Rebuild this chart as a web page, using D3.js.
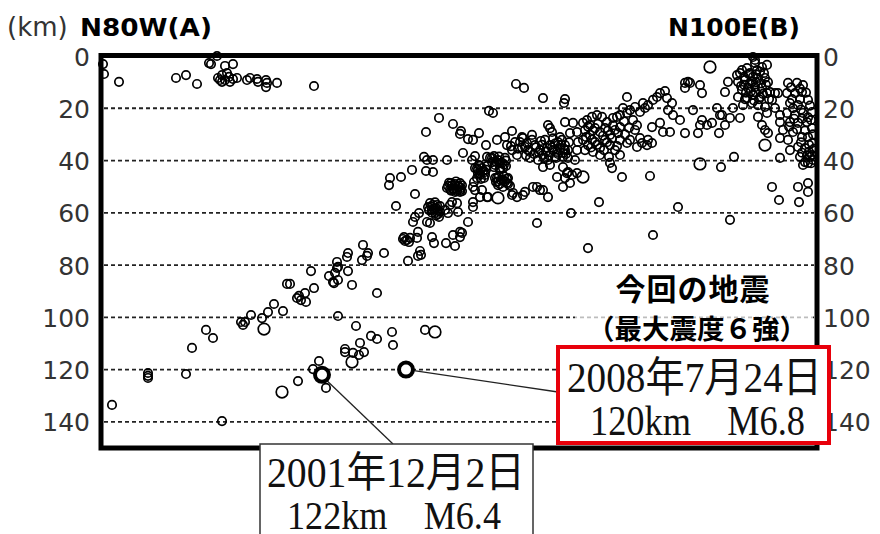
<!DOCTYPE html>
<html><head><meta charset="utf-8">
<script src="https://cdn.jsdelivr.net/npm/d3@7"></script>
<style>body{margin:0;background:#fff}</style>
</head><body><svg id="c" width="880" height="534"></svg>
<script>
// depth ticks (km)
const depthTicks=[0,20,40,60,80,100,120,140];
const gridDepths=[20,40,60,80,100,120,140];
const dirLabels=["N80W(A)","N100E(B)"];
const unitLabel="(km)";
// hypocentres: [distance along profile A->B (km), depth (km)]
const hypocenters=[
[1.5,3.1],[2,6.9],[9.5,9.9],[38,8.4],[43,7.3],[48.5,10.7],[54.5,2.7],[55.5,3.1],[58.5,0],[62.5,3.8],[66.5,3.1],[59,8.4],[61,7.3],[62.5,9.2],[64.5,8.0],[66.5,8.8],[63.5,6.5],[61,9.9],[68.5,8.4],[60,9.2],[65,9.9],[73.5,9.2],[75,8.4],[78.5,8.8],[79,9.9],[83,9.2],[83,11.9],[83.5,10.3],[88.5,10.3],[107,11.5],
[6,133.5],[24,121.3],[24,122.4],[24,123.2],[43,121.7],[46,111.7],[53,104.8],[56.5,107.9],[61,139.7],[70.5,101.8],[72.5,101.8],[71.5,102.9],[75.5,99.1],[81,100.3],[84,98.0],[87,94.9],[91.5,97.6],[93.5,87.2],[95,87.2],[98.5,92.6],[100.5,93.4],[102.5,90.7],[103,94.1],[99.5,91.8],[105.5,82.3],[107,88.8],[99,124.4],[106.5,119.8],[109.5,116.7],[113,127.0],[114.5,84.2],[117,86.9],[118.5,81.1],[118.5,78.8],[119,99.5],[126,87.6],[128,103.3],[130,109.8],[135.5,107.1],[138.5,108.3],[138.5,90.7],[146,105.6],[146.5,110.6],[122.5,113.3],[122.5,112.1],[126.5,113.6],[129.5,114.4],[132,113.3],[162.5,104.8],
[116.5,86.5],[119,85.7],[117.5,83.0],[119,80.7],[124,82.3],[123.5,76.9],[124,75.4],[131.5,72.3],[133.5,76.5],[131,78.1],[134,75.4],[142,75.4],[151.5,70.0],[153.5,70.4],[155,69.6],[152.5,70.8],[152,69.3],[154.5,71.2],[158.5,69.6],[159,67.3],[154,78.4],[159,76.5],[160,74.6],[160.5,76.1],[166,69.3],[167,71.6],[173,71.6],[177.5,72.7],[176.5,68.5],[181,67.7],[180,69.3],
[144.5,49.4],[145,46.7],[150.5,46.3],[156,43.6],[157.5,52.8],[148,57.4],[159.5,60.1],[157.5,61.6],[156.5,63.5],[163.5,63.5],[165,63.9],[169.5,61.6],[180,67.3],[184,63.5],[162,38.6],[163.5,39.8],[166.5,39.8],[173.5,39.8],[163,44.0],[166.5,44.4],[169.5,23.7],[163,29.1],[176.5,26.0],[180.5,28.7],[180,29.8],[184,31.8],[186.5,32.1],[189.5,29.5],[181.5,37.1],[187.5,38.3],
[165,56.3],[166.5,57.0],[168,58.2],[169,59.3],[166,58.9],[167.5,60.1],[170,57.4],[164,57.8],
[165.5,57.5],[167,58.5],[168.5,57],[166,60],[169,60.5],[164.5,59],[167.5,56],[170,59.5],[168,61],
[175,57.0],[178.5,56.3],[179,59.7],[174,60.1],[172.5,58.9],[176,55.9],
[174,49.7],[175.5,48.6],[177.5,49.0],[179,49.7],[180.5,50.5],[176.5,50.9],[178.5,51.7],[175,50.9],[180,48.6],[181,51.7],
[174.5,48.5],[176,49.5],[177,51],[178,48],[179.5,50],[181,49.5],[175.5,51.5],[177.5,52],[173.5,50.5],[180,52],
[187,48.2],[186.5,50.1],[191,51.3],[193.5,54.0],[186.5,55.9],[186.5,57.8],[180,51.3],[187.5,42.9],[190,44.8],[188.5,46.7],[187.5,51.3],[190,54.0],
[189.5,41.7],[191,42.9],[192.5,44.4],[190,45.5],[192,46.7],[193.5,42.1],[189,43.6],[186,39.8],[193.5,38.6],
[190,42],[191.5,44],[189,45],[192.5,45.5],[190.5,47],[188.5,43],[193,43.5],
[195,39.0],[197,38.3],[199,39.8],[201,40.9],[202.5,39.0],[197.5,41.7],[200,42.9],[196,40.6],[203,42.1],
[196,39],[198,40.5],[200,41],[202,41.5],[199.5,38.5],[201.5,43],[197,42.5],[203,40],
[197.5,46.7],[199.5,45.9],[201.5,47.4],[203.5,48.6],[199,49.4],[201.5,50.1],[204,46.7],[198,48.2],[205,49.7],
[198.5,46.5],[200.5,47.5],[202.5,48],[204,49],[200,49],[202,46],[199,48],[203.5,47],
[200,43.6],[194,54.0],[206.5,52.4],[206,53.2],[208.5,54.0],[211.5,53.2],[212.5,52.0],[216.5,50.1],[218.5,50.1],[220,51.3],[221.5,51.3],[224,54.0],[228.5,46.3],[231.5,50.1],[232.5,46.7],[234,44.4],[235,48.6],[235.5,60.1],[218.5,63.9],
[208,10.7],[212,12.2],[221.5,16.1],[232.5,16.5],[232,18.0],[194.5,21.0],[196.5,21.8],[198.5,32.1],[206,28.7],[202.5,31.0],[216,30.2],[211.5,31.4],[224,26.4],[225,27.6],[226,29.1],[232.5,25.3],[235,29.5],[238.5,29.1],[236.5,25.6],[193,34.1],[239,32.9],
[203.5,34.1],[206,36.0],[208.5,37.9],[210,32.9],[212.5,34.8],[215,36.7],[215,39.0],[217.5,34.1],[220,36.0],[221.5,37.9],[222.5,32.1],[225,34.1],[226.5,36.0],[227.5,38.6],[229,32.9],[230,35.2],[231.5,37.1],[232.5,34.1],[234,36.0],[224,39.8],[219,39.8],[211,31.0],[216,32.1],[207.5,32.9],[213.5,33.3],[223.5,35.2],[228.5,36.7],[231,32.1],
[218,35],[219.5,37],[221,34],[223,36.5],[224.5,38],[226,35],[227.5,33.5],[229,37.5],[230.5,34],[232,35.5],[233,37.5],[228,39],[222,39],[217,37.5],[214,36],[211,35],[209,35.5],[205.5,34.5],[213,38],[220.5,32.5],[226.5,31.5],[230,31],[234.5,33],
[231.5,38.6],[221.5,42.5],[225,41.7],[232.5,36.0],[238.5,36.0],[234,39.0],[237.5,39.8],[231.5,42.5],[233.5,44.8],[236,45.5],[238.5,44.8],
[263.5,15.7],
[241.5,25.6],[243.5,24.5],[245,26.4],[246,23.3],[248.5,22.6],[251,23.3],[253.5,25.3],[256.5,23.7],[258.5,23.3],[260,22.6],[261.5,19.9],[263.5,21.8],[265,20.7],[267.5,19.5],[270,21.4],[271.5,18.0],[272.5,19.9],[274,18.8],[276.5,16.8],[278.5,15.7],[280,14.2],[282.5,13.4],
[242.5,28.3],[245,30.2],[247.5,27.6],[250,29.1],[252.5,27.6],[255,30.2],[257.5,28.3],[260,27.2],[241.5,32.1],[244,34.1],[247.5,32.9],[250,35.2],[252.5,32.1],[255,34.1],[257.5,36.0],[260,32.1],[242.5,36.0],[246.5,36.7],[250,37.9],
[244,27],[246.5,28.5],[249,26],[251.5,30.5],[254,28.5],[256.5,26.5],[259,29.5],[243,31],[246,32],[248.5,34],[253.5,33],[256,31.5],[258.5,34.5],[245.5,35],[252,36],[262,25],[264.5,27.5],[266.5,24.5],[268.5,26.5],[262.5,30],
[283.5,16.1],[286,18.0],[284,20.7],[286.5,22.6],[285,29.1],[281.5,29.1],[280,25.6],[276,27.2],[274,32.1],[276,33.3],[273.5,34.1],[271,33.3],[268.5,34.8],[270,31.4],[267.5,28.3],[265,32.1],[263.5,33.3],[260,37.9],[254.5,38.6],[255,40.9],[256,42.9],[261,46.3],[275,45.9],
[249.5,55.9],[289,57.8],[315,62.7],[276.5,68.5],[244,73.5],
[292.5,10.3],[294,9.9],[300,11.1],[301,14.2],[312.5,13.8],[314,9.9],[292.5,12.2],[295,10.3],
[296.5,20.7],[290,24.5],[301,24.5],[300,26.4],[292.5,29.5],[299,29.5],[306,25.6],[309.5,29.5],[311,22.6],[315,23.7],[316.5,19.9],[320,23.7],[303.5,26.4],[308.5,19.9],[310,22.6],[312.5,26.4],
[310.5,42.5],[317,38.6],
[318.5,7.3],[321,5.4],[323.5,4.6],[325,6.5],[327.5,2.7],[328.5,5.4],[331,4.2],[333.5,3.4],[319,9.9],[322.5,9.2],[326,9.9],[329,8.4],[332.5,8.4],[321,13.0],[324,12.2],[327.5,11.9],[331,12.2],[319,15.7],[323.5,16.1],[326.5,14.9],[330,15.7],[333.5,14.2],[335,13.8],[321.5,18.8],[326,18.0],[329,18.8],[332.5,19.5],[337.5,14.2],[336,16.8],[326.5,0.4],[327.5,1.5],
[320,6.5],[322,8],[324.5,7],[326.5,8],[328,7],[330,6],[332,6.5],[334,10],[322,11],[325,10.5],[328,10],[330.5,10.5],[333,11],[320.5,11.5],[323,14],[325.5,13.5],[328,14],[331.5,14.5],[334.5,16.5],[322.5,16.5],[327,17],[329.5,16.5],
[329,23.3],[331,26.4],[332.5,28.3],[334,29.5],
[340,22.6],[340,25.3],[341.5,28.3],[340,31.4],[344,32.1],[345,36.0],[340,39.0],[336,50.1],[339.5,55.1],
[344,10.3],[348.5,10.3],[351.5,11.1],[343.5,14.2],[347.5,14.2],[351,13.8],[354,16.8],[345,18.0],[349,18.8],[343.5,21.8],[347.5,22.6],[351.5,21.8],[356,21.4],[345,25.3],[349,25.6],[353.5,25.3],[356,27.6],[346.5,29.1],[351,31.0],[354,31.0],[356,33.3],[349,34.8],[352.5,35.2],[350,38.6],[352.5,40.6],[355,38.6],[351.5,41.7],[354,40.9],[349,50.1],[354,48.6],[349.5,55.9],[354,52.0],[356,37.9],[356.5,39.8],[354.5,36.7],
[345.5,12],[350,12.5],[353,14],[346,16.5],[350,16.5],[355,19],[346.5,20],[350.5,20.5],[354,23.5],[347,24],[351,24],[355.5,24.5],[344.5,27],[348.5,28],[352.5,28.5],[356.5,30],[350.5,33],[354.5,34],[351,37],[353.5,38],[355.5,41],[357,35.5],
[339,14.2],[337.5,19.9],[333.5,21.8]
];
const largeHypocenters=[[82,104.5],[91,128.6],[126,117.1],[167.5,105.6],[199,54.3],[241.5,46.3],[305,4.2],[300,41.3],[332.5,34.1]];
// main shocks
const mainDist=[111,153];
const mainDepth=[122,120];
const mainDate=["2001年12月2日","2008年7月24日"];
const mainInfo=["122km\u3000M6.4","120km\u3000M6.8"];
const thisQuakeTitle=["今回の地震","（最大震度６強）"];

const svg=d3.select("#c");
const x=d3.scaleLinear().domain([0,359]).range([100,818]);
const y=d3.scaleLinear().domain([0,150]).range([56,448]);
const sans='"DejaVu Sans", sans-serif';
const cjk='"Noto Sans CJK JP", sans-serif';
const serif='"Liberation Serif", "Noto Sans CJK JP", serif';

// grid
svg.append("g").selectAll("line").data(gridDepths).join("line")
 .attr("x1",104).attr("x2",814).attr("y1",d=>y(d)).attr("y2",d=>y(d))
 .attr("stroke","#222").attr("stroke-width",1.8).attr("stroke-dasharray","4,3");

// hypocentres
svg.append("g").selectAll("circle").data(hypocenters).join("circle")
 .attr("cx",d=>x(d[0])).attr("cy",d=>y(d[1])).attr("r",4.2)
 .attr("fill","none").attr("stroke","#000").attr("stroke-width",1.7);
svg.append("g").selectAll("circle").data(largeHypocenters).join("circle")
 .attr("cx",d=>x(d[0])).attr("cy",d=>y(d[1])).attr("r",5.8)
 .attr("fill","none").attr("stroke","#000").attr("stroke-width",1.7);

// white veil behind title text
svg.append("rect").attr("x",575).attr("y",272).attr("width",238).attr("height",74).attr("fill","#fff").attr("opacity",0.7);

// frame
svg.append("rect").attr("x",101).attr("y",55.5).attr("width",716).attr("height",392.5)
 .attr("fill","none").attr("stroke","#000").attr("stroke-width",5);

// axes
const axL=d3.axisLeft(y).tickValues(depthTicks).tickSize(0).tickPadding(11);
const axR=d3.axisRight(y).tickValues(depthTicks).tickSize(0).tickPadding(6);
const gL=svg.append("g").attr("transform","translate(101,1)").call(axL);
const gR=svg.append("g").attr("transform","translate(817,1)").call(axR);
[gL,gR].forEach(g=>{g.select(".domain").remove();g.selectAll("text").attr("font-family",sans).attr("font-size",25).attr("fill","#333");});

// header labels
svg.append("text").attr("x",7).attr("y",36).text(unitLabel).attr("font-family",sans).attr("font-size",26).attr("fill","#333");
svg.append("text").attr("x",80).attr("y",36).text(dirLabels[0]).attr("font-family",sans).attr("font-weight","bold").attr("font-size",25).attr("textLength",132).attr("lengthAdjust","spacingAndGlyphs");
svg.append("text").attr("x",668).attr("y",36).text(dirLabels[1]).attr("font-family",sans).attr("font-weight","bold").attr("font-size",25).attr("textLength",132).attr("lengthAdjust","spacingAndGlyphs");

// leader lines
svg.append("line").attr("x1",x(mainDist[0])+5).attr("y1",y(mainDepth[0])+6).attr("x2",393).attr("y2",444).attr("stroke","#222").attr("stroke-width",1.3);
svg.append("line").attr("x1",x(mainDist[1])+8).attr("y1",y(mainDepth[1])+1).attr("x2",558).attr("y2",392).attr("stroke","#222").attr("stroke-width",1.3);

// main shock circles
svg.append("g").selectAll("circle").data(mainDist).join("circle")
 .attr("cx",d=>x(d)).attr("cy",(d,i)=>y(mainDepth[i])).attr("r",7)
 .attr("fill","#fff").attr("stroke","#000").attr("stroke-width",4);

// title of this quake
svg.append("text").attr("x",693).attr("y",300).attr("text-anchor","middle").text(thisQuakeTitle[0])
 .attr("font-family",cjk).attr("font-weight","bold").attr("font-size",30).attr("letter-spacing",1);
svg.append("text").attr("x",697).attr("y",339).attr("text-anchor","middle").text(thisQuakeTitle[1])
 .attr("font-family",cjk).attr("font-weight","bold").attr("font-size",27.5);

// 2001 box
svg.append("rect").attr("x",260).attr("y",444).attr("width",273).attr("height",100).attr("fill","#fff").attr("stroke","#333").attr("stroke-width",1.5);
svg.append("text").attr("x",267).attr("y",487).text(mainDate[0]).attr("font-family",serif).attr("font-size",42).attr("fill","#111").attr("textLength",258).attr("lengthAdjust","spacingAndGlyphs");
svg.append("text").attr("x",287).attr("y",529).text(mainInfo[0]).attr("font-family",serif).attr("font-size",41).attr("fill","#111").attr("textLength",214).attr("lengthAdjust","spacingAndGlyphs");

// 2008 box (red)
svg.append("rect").attr("x",558).attr("y",347).attr("width",271).attr("height",96).attr("fill","#fff").attr("stroke","#e8000b").attr("stroke-width",4);
svg.append("text").attr("x",567).attr("y",392).text(mainDate[1]).attr("font-family",serif).attr("font-size",42).attr("fill","#111").attr("textLength",255).attr("lengthAdjust","spacingAndGlyphs");
svg.append("text").attr("x",590).attr("y",435).text(mainInfo[1]).attr("font-family",serif).attr("font-size",42).attr("fill","#111").attr("textLength",215).attr("lengthAdjust","spacingAndGlyphs");
</script>
</body></html>
